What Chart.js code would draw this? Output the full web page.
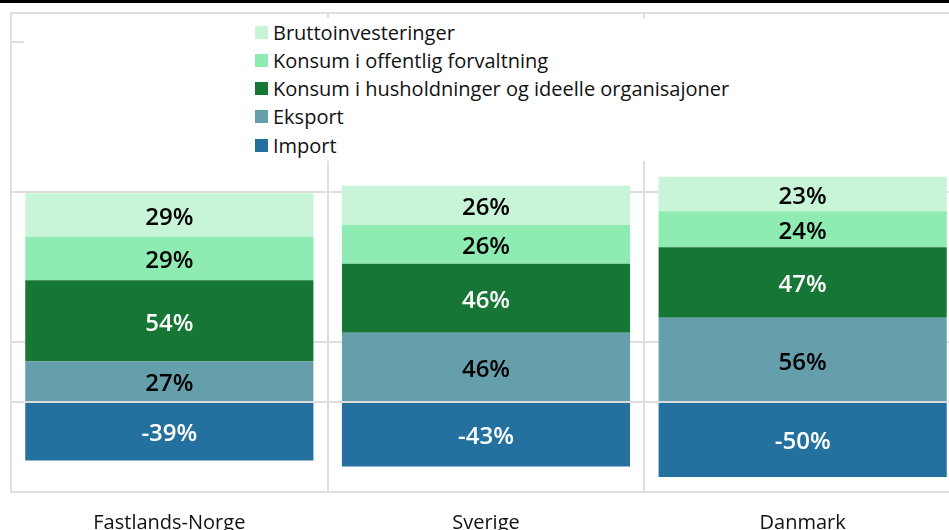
<!DOCTYPE html>
<html>
<head>
<meta charset="utf-8">
<script src="https://cdn.jsdelivr.net/npm/chart.js@4.4.0/dist/chart.umd.min.js"></script>
<style>
    html, body { margin: 0; padding: 0; background: #fff; overflow: hidden; }
    body { width: 949px; height: 530px; position: relative; font-family: 'Open Sans', sans-serif; }
    .top-rule { position: absolute; left: 0; top: 0; width: 949px; height: 3px; background: #000; z-index: 3; }
    .chart-wrap { position: absolute; left: 0; top: 0; width: 961px; height: 530px; }
    #legend { position: absolute; left: 24px; top: 18px; width: 940px; height: 143px; background: #fff; z-index: 2; }
    .legend-item { position: absolute; left: 231px; height: 26px; display: flex; align-items: center; font-size: 20px; color: #111; white-space: nowrap; }
    .legend-box { width: 13px; height: 13px; margin-right: 5px; }
</style>
</head>
<body>
<div class="top-rule"></div>
<div class="chart-wrap"><canvas id="chart"></canvas></div>
<div id="legend"></div>

<script>
// Data
const categories = ['Fastlands-Norge', 'Sverige', 'Danmark'];
const bruttoinvesteringer = [29, 26, 23];
const konsumOffentlig = [29, 26, 24];
const konsumHusholdninger = [54, 46, 47];
const eksport = [27, 46, 56];
const importValues = [-39, -43, -50];
const yTicks = [-60, 40, 140, 240, 259];

const GRID = '#dedede';

// bottom-up stacking order
const datasets = [
    { label: 'Import', data: importValues, backgroundColor: '#2471a0', textColor: '#fff' },
    { label: 'Eksport', data: eksport, backgroundColor: '#659fab', textColor: '#000' },
    { label: 'Konsum i husholdninger og ideelle organisajoner', data: konsumHusholdninger, backgroundColor: '#167636', textColor: '#fff' },
    { label: 'Konsum i offentlig forvaltning', data: konsumOffentlig, backgroundColor: '#8eebb1', textColor: '#000' },
    { label: 'Bruttoinvesteringer', data: bruttoinvesteringer, backgroundColor: '#c8f5d8', textColor: '#000' }
];

// Legend (top to bottom = reverse of stack)
const legendEl = document.getElementById('legend');
datasets.slice().reverse().forEach((ds, i) => {
    const item = document.createElement('div');
    item.className = 'legend-item';
    item.style.top = (1 + i * 28.3) + 'px';
    item.innerHTML = `<span class="legend-box" style="background:${ds.backgroundColor}"></span><span>${ds.label}</span>`;
    legendEl.appendChild(item);
});

// Value labels inside each segment
const valueLabels = {
    id: 'valueLabels',
    afterDatasetsDraw(chart) {
        const ctx = chart.ctx;
        ctx.save();
        ctx.font = '600 24px "Open Sans"';
        ctx.textAlign = 'center';
        ctx.textBaseline = 'middle';
        chart.data.datasets.forEach((ds, i) => {
            chart.getDatasetMeta(i).data.forEach((bar, j) => {
                ctx.fillStyle = ds.textColor;
                ctx.fillText(ds.data[j] + '%', bar.x, (bar.y + bar.base) / 2 + 3);
            });
        });
        ctx.restore();
    }
};

// Zero line drawn over the bars
const zeroLine = {
    id: 'zeroLine',
    afterDatasetsDraw(chart) {
        const { ctx, chartArea, scales } = chart;
        const y = scales.y.getPixelForValue(0);
        ctx.save();
        ctx.strokeStyle = GRID;
        ctx.lineWidth = 2;
        ctx.beginPath();
        ctx.moveTo(chartArea.left, y);
        ctx.lineTo(chartArea.right, y);
        ctx.stroke();
        ctx.restore();
    }
};

new Chart(document.getElementById('chart'), {
    type: 'bar',
    data: {
        labels: categories,
        datasets: datasets.map(ds => ({
            label: ds.label,
            data: ds.data,
            backgroundColor: ds.backgroundColor,
            textColor: ds.textColor,
            borderWidth: 0,
            categoryPercentage: 1,
            barPercentage: 0.91
        }))
    },
    options: {
        responsive: true,
        maintainAspectRatio: false,
        animation: false,
        layout: { padding: { left: 11, top: 13, right: 0, bottom: 0 } },
        plugins: {
            legend: { display: false },
            tooltip: { enabled: false }
        },
        scales: {
            x: {
                stacked: true,
                grid: { color: GRID, lineWidth: 2, drawTicks: false, offset: true },
                border: { color: GRID, width: 2 },
                ticks: { color: '#111', font: { family: 'Open Sans', size: 20 }, padding: 19, maxRotation: 0 },
                afterFit(scale) { scale.height = 38; }
            },
            y: {
                stacked: true,
                min: -60,
                max: 259,
                grid: { color: GRID, lineWidth: 2, drawTicks: false },
                border: { color: GRID, width: 2 },
                ticks: { display: false },
                afterBuildTicks(axis) { axis.ticks = yTicks.map(v => ({ value: v })); }
            }
        }
    },
    plugins: [valueLabels, zeroLine]
});
</script>
</body>
</html>
